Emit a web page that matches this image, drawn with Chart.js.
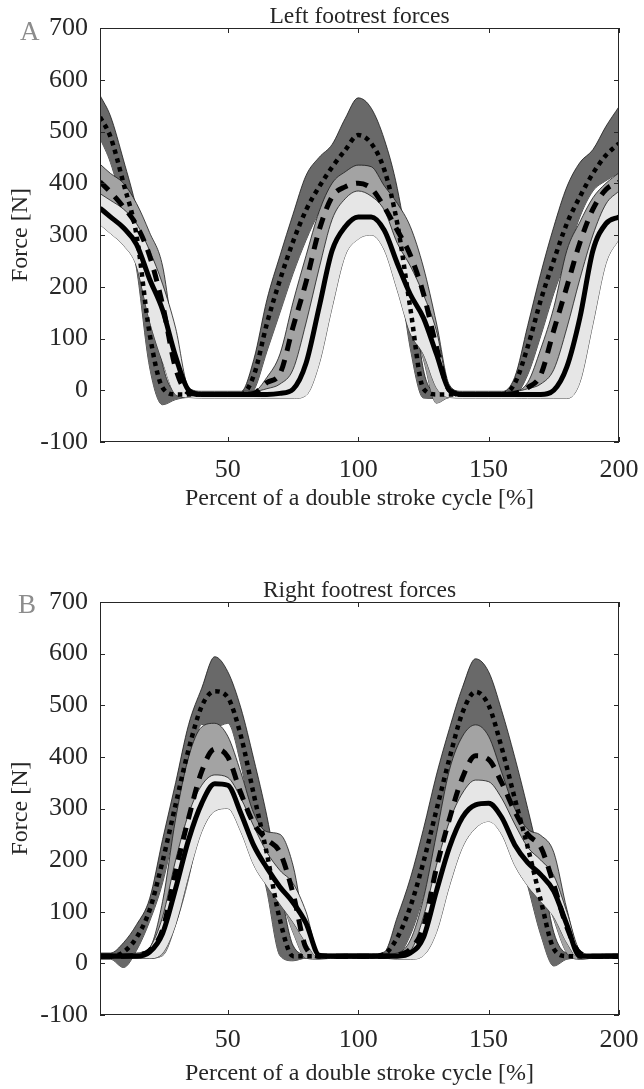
<!DOCTYPE html>
<html lang="en">
<head>
<meta charset="utf-8" />
<script src="https://cdn.jsdelivr.net/npm/chart.js@4.4.0/dist/chart.umd.min.js"></script>
<title>Footrest forces</title>
<style>
  body { margin: 0; background: #fff; }
  canvas { display: block; }
</style>
</head>
<body>
<canvas id="leftChart" width="644" height="545"></canvas>
<canvas id="rightChart" width="644" height="544"></canvas>
<script>
// percent of a double stroke cycle
const xPct = [1, 5, 10, 15, 20, 25, 30, 35, 40, 45, 50, 55, 60, 65, 70, 75, 80, 85, 90, 95, 100,
              105, 110, 115, 120, 125, 130, 135, 140, 145, 150, 155, 160, 165, 170, 175, 180, 185, 190, 195, 200];
const xTicks = [50, 100, 150, 200];
const yTicks = [-100, 0, 100, 200, 300, 400, 500, 600, 700];

// A - left footrest (dotted / dashed / solid means with their bands)
const aDot   = [528, 490, 400, 300, 110, 5, -8, -8, -8, -8, -8, -8, 29, 129, 213, 287, 348, 393, 431, 464, 493, 477, 426, 322, 158, 3, -8, -8, -8, -8, -8, -8, 13, 84, 174, 251, 322, 374, 419, 454, 477];
const aDotHi = [570, 530, 445, 350, 215, 50, -2, -3, -3, -3, -3, -3, 60, 175, 260, 340, 415, 450, 475, 525, 565, 545, 485, 390, 240, 40, -2, -3, -3, -3, -3, -3, 25, 125, 226, 316, 393, 440, 465, 510, 548];
const aDotLo = [487, 440, 350, 235, 45, -28, -18, -14, -14, -14, -14, -14, 0, 75, 150, 225, 290, 345, 395, 410, 425, 420, 365, 250, 80, -15, -16, -14, -14, -14, -14, -14, -10, 30, 105, 187, 258, 335, 385, 405, 420];

const aDash   = [403, 383, 354, 319, 260, 165, 42, -5, -8, -8, -8, -8, -6, 15, 32, 122, 209, 309, 374, 393, 400, 390, 354, 309, 261, 187, 84, 0, -8, -8, -8, -8, -6, 5, 30, 116, 200, 285, 350, 388, 402];
const aDashHi = [437, 419, 400, 361, 305, 240, 75, -3, -3, -3, -3, -3, -2, 25, 70, 170, 260, 345, 400, 422, 435, 432, 395, 361, 316, 238, 130, 10, -3, -3, -3, -3, -2, 15, 80, 160, 270, 325, 372, 400, 420];
const aDashLo = [372, 345, 316, 258, 195, 90, -6, -14, -14, -14, -14, -14, -12, -10, -5, 30, 110, 200, 290, 345, 365, 350, 303, 245, 150, 60, -25, -14, -14, -14, -14, -14, -14, -14, -14, -8, 40, 110, 235, 300, 350];

const aSol   = [352, 335, 314, 282, 215, 155, 65, 0, -8, -8, -8, -8, -8, -8, -6, 2, 52, 160, 270, 316, 335, 335, 309, 245, 185, 140, 70, 0, -8, -8, -8, -8, -8, -8, -8, 0, 45, 140, 270, 322, 335];
const aSolHi = [380, 367, 350, 322, 270, 205, 120, 5, -2, -2, -2, -2, -2, 3, 12, 40, 130, 235, 330, 370, 385, 375, 348, 284, 240, 185, 115, 5, -2, -2, -2, -2, -2, 3, 12, 40, 120, 215, 300, 360, 385];
const aSolLo = [320, 303, 280, 240, 135, 55, -8, -14, -15, -15, -15, -15, -15, -16, -16, -16, -10, 50, 160, 260, 292, 300, 271, 193, 110, 70, 5, -14, -15, -15, -15, -15, -15, -16, -16, -16, -16, 15, 128, 245, 292];

// B - right footrest
const bDot   = [14, 14, 22, 50, 103, 198, 308, 415, 498, 527, 515, 441, 326, 212, 84, 14, 14, 14, 14, 14, 14, 14, 18, 50, 110, 196, 297, 397, 486, 526, 500, 418, 320, 225, 122, 28, 14, 14, 14, 14, 14];
const bDotHi = [20, 20, 40, 75, 125, 240, 350, 463, 533, 594, 565, 495, 395, 285, 150, 35, 18, 18, 18, 18, 18, 18, 22, 90, 165, 260, 365, 455, 535, 590, 565, 490, 400, 300, 190, 60, 20, 18, 18, 18, 18];
const bDotLo = [8, 8, -8, 25, 81, 156, 266, 367, 463, 457, 465, 385, 257, 140, 15, 5, 10, 10, 10, 10, 10, 10, 12, 15, 55, 130, 230, 335, 430, 460, 435, 345, 240, 150, 55, -5, 8, 10, 10, 10, 10];

const bDash   = [14, 14, 14, 16, 25, 65, 178, 282, 372, 415, 400, 330, 270, 240, 215, 136, 30, 14, 14, 14, 14, 14, 14, 16, 28, 70, 185, 280, 360, 402, 395, 350, 295, 250, 225, 152, 70, 20, 14, 14, 14];
const bDashHi = [18, 18, 18, 20, 30, 120, 280, 400, 458, 465, 440, 370, 290, 255, 250, 190, 60, 16, 16, 18, 18, 18, 18, 20, 45, 125, 250, 375, 440, 462, 440, 370, 300, 260, 248, 215, 105, 22, 16, 18, 18];
const bDashLo = [10, 10, 10, 10, 10, 15, 75, 165, 286, 365, 360, 290, 220, 170, 130, 60, 10, 8, 10, 10, 10, 10, 10, 10, 12, 25, 110, 180, 280, 342, 345, 320, 260, 200, 160, 85, 20, 8, 10, 10, 10];

const bSol   = [14, 14, 14, 14, 22, 58, 145, 240, 310, 348, 345, 291, 228, 185, 148, 118, 78, 16, 14, 14, 14, 14, 14, 14, 20, 50, 140, 225, 283, 307, 310, 283, 230, 195, 172, 140, 75, 14, 14, 14, 14];
const bSolHi = [18, 18, 18, 18, 30, 90, 200, 290, 345, 365, 360, 320, 265, 215, 180, 155, 100, 18, 18, 18, 18, 18, 18, 18, 25, 90, 190, 275, 330, 355, 352, 320, 270, 225, 200, 170, 100, 25, 16, 18, 18];
const bSolLo = [10, 10, 10, 10, 10, 20, 75, 170, 255, 295, 300, 255, 190, 150, 115, 80, 40, 10, 10, 10, 10, 10, 10, 8, 8, 15, 60, 150, 225, 262, 275, 250, 190, 150, 120, 90, 40, 8, 10, 10, 10];

const ink = '#262626';
const serif = '"Liberation Serif", "Times New Roman", serif';

function pts(arr) {
    return arr.map((v, i) => ({ x: xPct[i], y: v }));
}

function band(hi, lo, color, order) {
    const edge = { borderColor: '#1a1a1a', borderWidth: 0.8, pointRadius: 0,
                   cubicInterpolationMode: 'monotone', order: order };
    return [
        Object.assign({ data: pts(hi), fill: '+1', backgroundColor: color }, edge),
        Object.assign({ data: pts(lo), fill: false }, edge)
    ];
}

function line(arr, dash, width) {
    return { data: pts(arr), borderColor: '#000', borderWidth: width, borderDash: dash,
             borderCapStyle: 'butt', pointRadius: 0, fill: false,
             cubicInterpolationMode: 'monotone', order: 0 };
}

// box, inward ticks, panel title and letter
const framePlugin = {
    id: 'frame',
    afterDatasetsDraw(chart, args, opts) {
        const { ctx, chartArea: a, scales: { x, y } } = chart;
        ctx.save();
        ctx.strokeStyle = ink;
        ctx.lineWidth = 1;
        ctx.strokeRect(a.left + 0.5, a.top + 0.5, a.right - a.left - 1, a.bottom - a.top - 1);
        ctx.beginPath();
        x.ticks.forEach(t => {
            const px = Math.round(x.getPixelForValue(t.value)) + 0.5;
            ctx.moveTo(px, a.bottom); ctx.lineTo(px, a.bottom - 5);
            ctx.moveTo(px, a.top); ctx.lineTo(px, a.top + 5);
        });
        y.ticks.forEach(t => {
            const py = Math.round(y.getPixelForValue(t.value)) + 0.5;
            ctx.moveTo(a.left, py); ctx.lineTo(a.left + 5, py);
            ctx.moveTo(a.right, py); ctx.lineTo(a.right - 5, py);
        });
        ctx.stroke();

        ctx.fillStyle = ink;
        ctx.font = '23.5px ' + serif;
        ctx.textAlign = 'center';
        ctx.textBaseline = 'alphabetic';
        ctx.fillText(opts.title, (a.left + a.right) / 2, opts.titleY);

        ctx.fillStyle = '#8c8c8c';
        ctx.font = '27px ' + serif;
        ctx.textAlign = 'left';
        ctx.fillText(opts.letter, opts.letterX, opts.letterY);
        ctx.restore();
    }
};

function makePanel(id, p) {
    new Chart(document.getElementById(id), {
        type: 'line',
        data: {
            datasets: [
                ...band(p.dotHi, p.dotLo, '#696969', 3),
                ...band(p.dashHi, p.dashLo, '#a3a3a3', 2),
                ...band(p.solHi, p.solLo, '#e6e6e6', 1),
                line(p.dot, [4.5, 4.5], 4.5),
                line(p.dash, [12, 9], 5),
                line(p.sol, [], 5)
            ]
        },
        options: {
            responsive: false,
            animation: false,
            events: [],
            layout: { padding: { top: p.padTop, right: 25, bottom: p.padBottom, left: 0 } },
            scales: {
                x: {
                    type: 'linear', min: 1, max: 200,
                    afterBuildTicks: s => { s.ticks = xTicks.map(v => ({ value: v })); },
                    afterFit: s => { s.height = p.axisHeight; s.paddingLeft = 0; s.paddingRight = 0; },
                    grid: { display: false, drawTicks: false },
                    border: { display: false },
                    ticks: { color: ink, padding: p.tickPad, maxRotation: 0, autoSkip: false,
                             font: { family: serif, size: 26, lineHeight: 1 } },
                    title: { display: true, text: 'Percent of a double stroke cycle [%]', color: ink,
                             font: { family: serif, size: 24, lineHeight: 1 },
                             padding: { top: 0, bottom: 0 } }
                },
                y: {
                    min: -100, max: 700,
                    afterBuildTicks: s => { s.ticks = yTicks.map(v => ({ value: v })); },
                    afterFit: s => { s.width = 100; },
                    grid: { display: false, drawTicks: false },
                    border: { display: false },
                    ticks: { color: ink, padding: 12, callback: v => String(v),
                             font: { family: serif, size: 26, lineHeight: 1 } },
                    title: { display: true, text: 'Force [N]', color: ink,
                             font: { family: serif, size: 24, lineHeight: 1 },
                             padding: { top: 9, bottom: 0 } }
                }
            },
            plugins: {
                legend: { display: false },
                tooltip: { enabled: false },
                frame: { title: p.title, titleY: p.titleY, letter: p.letter, letterX: p.letterX, letterY: p.letterY }
            }
        },
        plugins: [framePlugin]
    });
}

makePanel('leftChart', {
    title: 'Left footrest forces', titleY: 23, letter: 'A', letterX: 20, letterY: 40,
    padTop: 28, padBottom: 34, axisHeight: 69, tickPad: 15,
    dot: aDot, dotHi: aDotHi, dotLo: aDotLo,
    dash: aDash, dashHi: aDashHi, dashLo: aDashLo,
    sol: aSol, solHi: aSolHi, solLo: aSolLo
});

makePanel('rightChart', {
    title: 'Right footrest forces', titleY: 52, letter: 'B', letterX: 18, letterY: 68,
    padTop: 57, padBottom: 3, axisHeight: 71, tickPad: 12,
    dot: bDot, dotHi: bDotHi, dotLo: bDotLo,
    dash: bDash, dashHi: bDashHi, dashLo: bDashLo,
    sol: bSol, solHi: bSolHi, solLo: bSolLo
});
</script>
</body>
</html>
